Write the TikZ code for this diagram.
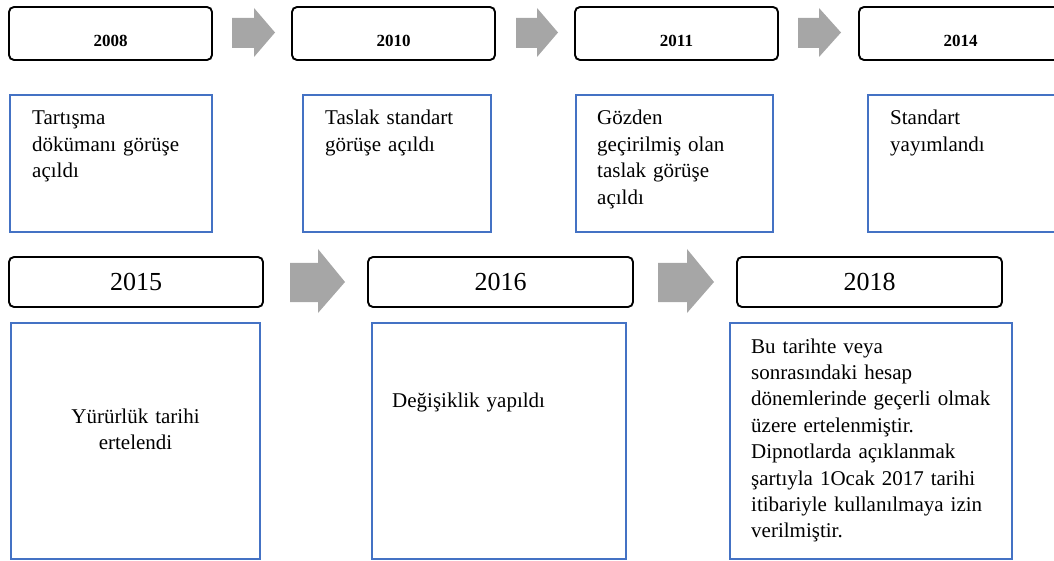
\documentclass[tikz,border=0pt]{standalone}
\usepackage{fontspec}
\setmainfont{Liberation Serif}
\definecolor{boxblue}{HTML}{4472C4}
\definecolor{arrowgray}{HTML}{A6A6A6}
\begin{document}
\begin{tikzpicture}[x=1pt,y=-1pt,
  yearbox/.style={draw=black, line width=1.9pt, rounded corners=5pt, inner sep=0pt},
  infobox/.style={draw=boxblue, line width=1.6pt, inner sep=0pt},
  smallyear/.style={font=\fontsize{17}{20}\selectfont\bfseries, inner sep=0pt},
  bigyear/.style={font=\fontsize{26}{30}\selectfont, inner sep=0pt},
  infotext/.style={font=\fontsize{21}{26.4}\selectfont, inner sep=0pt, anchor=base west, align=left, text width=270pt},
  flow/.style={fill=arrowgray, draw=none}]
\useasboundingbox (0,0) rectangle (1054,561);
\clip (0,0) rectangle (1054,561);

% top row: year boxes
\node[yearbox, minimum width=203pt, minimum height=53pt] (y2008) at (110.5,33.5) {};
\node[yearbox, minimum width=203pt, minimum height=53pt] (y2010) at (393.5,33.5) {};
\node[yearbox, minimum width=203pt, minimum height=53pt] (y2011) at (676.5,33.5) {};
\node[yearbox, minimum width=203pt, minimum height=53pt] (y2014) at (960.5,33.5) {};
\node[smallyear] (t2008) at (110.5,41) {2008};
\node[smallyear] (t2010) at (393.5,41) {2010};
\node[smallyear] (t2011) at (676.5,41) {2011};
\node[smallyear] (t2014) at (960.5,41) {2014};

% top row: block arrows
\fill[flow] (232,18) -- (254,18) -- (254,8) -- (275,32.5) -- (254,57) -- (254,48) -- (232,48) -- cycle;
\fill[flow] (516,18) -- (537,18) -- (537,8) -- (558,32.5) -- (537,57) -- (537,48) -- (516,48) -- cycle;
\fill[flow] (798,18) -- (819,18) -- (819,8) -- (841,32.5) -- (819,57) -- (819,48) -- (798,48) -- cycle;

% top row: description boxes
\node[infobox, minimum width=202pt, minimum height=137pt] (d2008) at (111,163.5) {};
\node[infobox, minimum width=188pt, minimum height=137pt] (d2010) at (397,163.5) {};
\node[infobox, minimum width=197pt, minimum height=137pt] (d2011) at (674.5,163.5) {};
\node[infobox, minimum width=200pt, minimum height=137pt] (d2014) at (968,163.5) {};
\node[infotext] (x2008) at (32,125) {Tartışma\\dökümanı görüşe\\açıldı};
\node[infotext] (x2010) at (325,125) {Taslak standart\\görüşe açıldı};
\node[infotext] (x2011) at (597,125) {Gözden\\geçirilmiş olan\\taslak görüşe\\açıldı};
\node[infotext] (x2014) at (890,125) {Standart\\yayımlandı};

% bottom row: year boxes
\node[yearbox, minimum width=254pt, minimum height=50pt] (y2015) at (136,282) {};
\node[yearbox, minimum width=265pt, minimum height=50pt] (y2016) at (500.5,282) {};
\node[yearbox, minimum width=265pt, minimum height=50pt] (y2018) at (869.5,282) {};
\node[bigyear] (t2015) at (136,282) {2015};
\node[bigyear] (t2016) at (500.5,282) {2016};
\node[bigyear] (t2018) at (869.5,282) {2018};

% bottom row: block arrows
\fill[flow] (290,263) -- (318,263) -- (318,249) -- (345,282) -- (318,313) -- (318,302) -- (290,302) -- cycle;
\fill[flow] (658,263) -- (687,263) -- (687,249) -- (714,282) -- (687,313) -- (687,302) -- (658,302) -- cycle;

% bottom row: description boxes
\node[infobox, minimum width=249pt, minimum height=236pt] (d2015) at (135.5,441) {};
\node[infobox, minimum width=254pt, minimum height=236pt] (d2016) at (499,441) {};
\node[infobox, minimum width=282pt, minimum height=236pt] (d2018) at (871,441) {};
\node[infotext, anchor=base, align=center, text width=230pt] (x2015) at (135.5,423) {Yürürlük tarihi\\ertelendi};
\node[infotext] (x2016) at (392,407) {Değişiklik yapıldı};
\node[infotext] (x2018) at (751,353) {Bu tarihte veya\\sonrasındaki hesap\\dönemlerinde geçerli olmak\\üzere ertelenmiştir.\\Dipnotlarda açıklanmak\\şartıyla 1Ocak 2017 tarihi\\itibariyle kullanılmaya izin\\verilmiştir.};
\end{tikzpicture}
\end{document}
